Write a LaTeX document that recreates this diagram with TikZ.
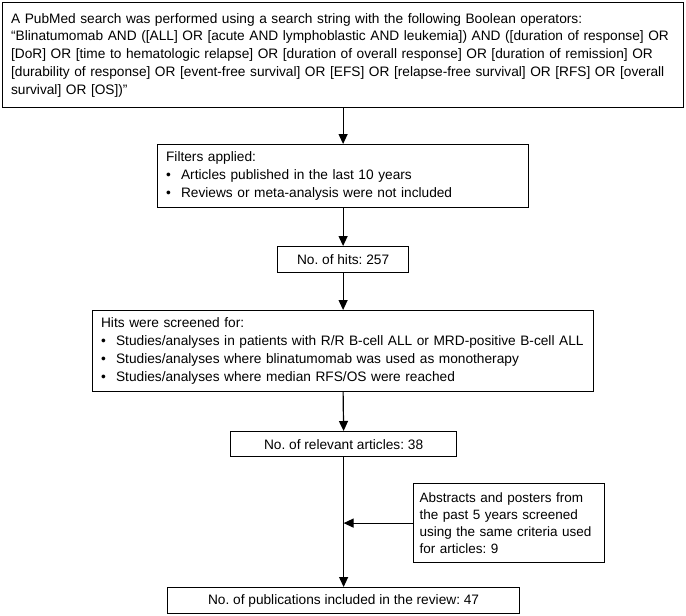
\documentclass[tikz,border=0pt]{standalone}
\usepackage{fontspec}
\setmainfont{Liberation Sans}
\usetikzlibrary{arrows.meta}
\frenchspacing
\newcommand{\bitem}{\makebox[15pt][l]{\textbullet}}
\begin{document}
\begin{tikzpicture}[x=1pt,y=-1pt,
		box/.style={draw,line width=1.2pt,anchor=north west,align=left,inner xsep=8.5pt,inner ysep=0pt,
			font=\fontsize{13.7}{17.8}\selectfont},
		flow/.style={line width=1.2pt,-{Triangle[length=10pt,width=9pt]}}]
	\useasboundingbox (0,0) rectangle (686,616);
	% boxes
	\node[box,minimum width=681pt,minimum height=105pt,text width=664pt] (search) at (2,2)
		{A PubMed search was performed using a search string with the following Boolean operators:\\
		``Blinatumomab AND ([ALL] OR [acute AND lymphoblastic AND leukemia]) AND ([duration of response] OR\\{}
		[DoR] OR [time to hematologic relapse] OR [duration of overall response] OR [duration of remission] OR\\{}
		[durability of response] OR [event-free survival] OR [EFS] OR [relapse-free survival] OR [RFS] OR [overall\\
		survival] OR [OS])''};
	\node[box,minimum width=371pt,minimum height=63pt,text width=354pt] (filters) at (157,144)
		{Filters applied:\\
		\bitem Articles published in the last 10 years\\
		\bitem Reviews or meta-analysis were not included};
	\node[box,align=center,minimum width=131pt,minimum height=26pt] (hits) at (277,246) {No. of hits: 257};
	\node[box,minimum width=501pt,minimum height=81pt,text width=484pt] (screen) at (92,310)
		{Hits were screened for:\\
		\bitem Studies/analyses in patients with R/R B-cell ALL or MRD-positive B-cell ALL\\
		\bitem Studies/analyses where blinatumomab was used as monotherapy\\
		\bitem Studies/analyses where median RFS/OS were reached};
	\node[box,align=center,minimum width=226pt,minimum height=25pt] (relevant) at (230,431) {No. of relevant articles: 38};
	\node[box,inner xsep=6pt,minimum width=191pt,minimum height=79pt,text width=179pt,
		font=\fontsize{13.5}{17}\selectfont] (abstracts) at (413,483)
		{Abstracts and posters from\\
		the past 5 years screened\\
		using the same criteria used\\
		for articles: 9};
	\node[box,align=center,minimum width=352pt,minimum height=26pt] (included) at (167,587) {No. of publications included in the review: 47};
	% arrows
	\draw[flow] (search.south) -- (filters.north);
	\draw[flow] (filters.south) -- (hits.north);
	\draw[flow] (hits.south) -- (screen.north);
	\draw[flow] (screen.south) -- (relevant.north);
	\draw[flow] (relevant.south) -- (relevant.south |- included.north);
	\draw[flow] (abstracts.west) -- (abstracts.west -| relevant.south);
\end{tikzpicture}
\end{document}
